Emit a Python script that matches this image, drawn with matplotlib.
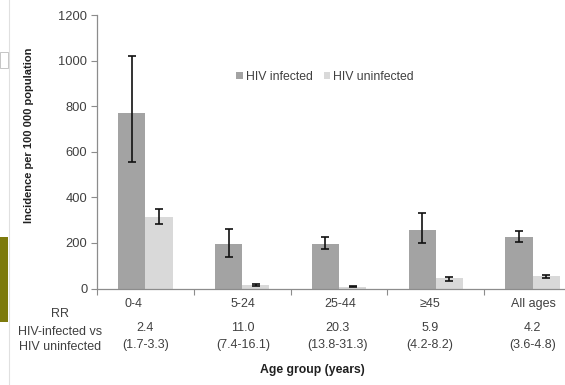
import matplotlib
matplotlib.use("Agg")
import matplotlib.pyplot as plt
import matplotlib.transforms as mtrans
import numpy as np
from matplotlib.patches import Rectangle
from matplotlib.lines import Line2D

plt.rcParams['font.family'] = ['Liberation Sans', 'DejaVu Sans']

categories = ["0-4", "5-24", "25-44", "\u226545", "All ages"]
infected = [768, 194, 196, 257, 225]
infected_lo = [553, 139, 172, 199, 202]
infected_hi = [1020, 262, 225, 332, 254]
uninfected = [314, 15, 8, 44, 53]
uninfected_lo = [281, 12, 6, 34, 46]
uninfected_hi = [347, 19, 10, 51, 59]
rr_values = ["2.4", "11.0", "20.3", "5.9", "4.2"]
rr_ci = ["(1.7-3.3)", "(7.4-16.1)", "(13.8-31.3)", "(4.2-8.2)", "(3.6-4.8)"]
yticks = [0, 200, 400, 600, 800, 1000, 1200]

W, H = 565, 385
fig = plt.figure(figsize=(W / 100, H / 100), dpi=100)
ax = fig.add_axes([97 / W, (H - 288.5) / H, 484 / W, 273.5 / H])

x = np.arange(len(categories))
bw = 0.28
c_inf = "#a3a3a3"
c_un = "#d9d9d9"
inf = np.array(infected)
un = np.array(uninfected)
err_inf = [inf - np.array(infected_lo), np.array(infected_hi) - inf]
err_un = [un - np.array(uninfected_lo), np.array(uninfected_hi) - un]
ekw = dict(ecolor="#111111", elinewidth=1.2, capsize=3, capthick=1.2)
ax.bar(x - bw / 2, inf, bw, color=c_inf, label="HIV infected", yerr=err_inf, error_kw=ekw)
ax.bar(x + bw / 2, un, bw, color=c_un, label="HIV uninfected", yerr=err_un, error_kw=ekw)

ax.set_xlim(-0.5, len(categories) - 0.5)
ax.set_ylim(0, 1200)
ax.set_yticks(yticks)
ax.set_yticklabels([str(v) for v in yticks], fontsize=9.3, color="#404040")
ax.tick_params(axis='y', length=4, color="#8c8c8c", width=0.8, pad=3)
ax.set_xticks(np.arange(-0.5, len(categories) + 0.5, 1.0))
ax.set_xticklabels([])
ax.tick_params(axis='x', length=4, color="#8c8c8c", width=0.8)
for s in ["top", "right"]:
    ax.spines[s].set_visible(False)
for s in ["left", "bottom"]:
    ax.spines[s].set_color("#8c8c8c")
    ax.spines[s].set_linewidth(0.9)

ax.set_ylabel("Incidence per 100 000 population", fontsize=8, fontweight="bold",
              color="#202020")
ax.yaxis.set_label_coords((34 - 97) / 484, (288.5 - 135) / 273.5, transform=ax.transAxes)

leg = ax.legend(loc="center", bbox_to_anchor=((325 - 97) / 484, (288.5 - 77) / 273.5),
                ncol=2, frameon=False, fontsize=8.8, handlelength=0.55, handleheight=0.55,
                handletextpad=0.25, columnspacing=0.9)
for t in leg.get_texts():
    t.set_color("#404040")

trans = mtrans.blended_transform_factory(ax.transData, fig.transFigure)
def fy(py):
    return (H - py) / H
# small horizontal nudges (pixels) for label placement as in the reference
cat_dx = [-12, 1, 1, -6, 1]
rr_dx = [0, 1, -2, -6, 0]
for i, cat in enumerate(categories):
    t1 = trans + mtrans.ScaledTranslation(cat_dx[i] / 100, 0, fig.dpi_scale_trans)
    t2 = trans + mtrans.ScaledTranslation(rr_dx[i] / 100, 0, fig.dpi_scale_trans)
    ax.text(i, fy(304), cat, transform=t1, ha="center", va="center",
            fontsize=9, color="#404040")
    ax.text(i, fy(328), rr_values[i], transform=t2, ha="center", va="center",
            fontsize=9, color="#404040")
    ax.text(i, fy(345), rr_ci[i], transform=t2, ha="center", va="center",
            fontsize=9, color="#404040")

fig.text(60 / W, fy(314), "RR", ha="center", va="center", fontsize=9, color="#404040")
fig.text(60 / W, fy(332), "HIV-infected vs", ha="center", va="center", fontsize=9, color="#404040")
fig.text(60 / W, fy(347), "HIV uninfected", ha="center", va="center", fontsize=9, color="#404040")
fig.text(312 / W, fy(370), "Age group (years)", ha="center", va="center", fontsize=8.8,
         fontweight="bold", color="#202020")

# screenshot artifacts at left edge
fig.patches.append(Rectangle((0, fy(322)), 7.5 / W, 85 / H, transform=fig.transFigure,
                             facecolor="#7d7a0c", edgecolor="none"))
fig.lines.append(Line2D([8.5 / W, 8.5 / W], [0, 1], transform=fig.transFigure,
                        color="#e0e0e0", lw=0.8))
fig.patches.append(Rectangle((0, fy(68)), 8 / W, 16 / H, transform=fig.transFigure,
                             facecolor="none", edgecolor="#bbbbbb", lw=0.6))

fig.savefig("out.png", dpi=100)
